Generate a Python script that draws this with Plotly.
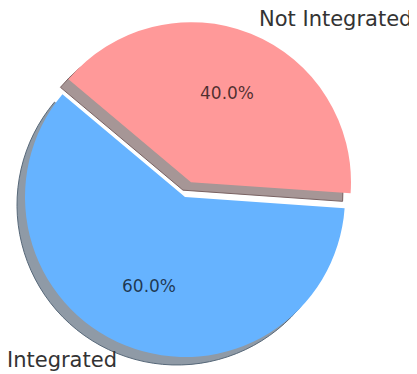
import math
import plotly.graph_objects as go

# ---- data ----
labels = ["Integrated", "Not Integrated"]
values = [60, 40]
colors = ["#66b3ff", "#ff9999"]
explode = [0.0, 0.1]

# ---- layout constants (pixels in the browser window) ----
WIN_W, WIN_H = 417, 374
BODY = 8                            # default page margin around the figure
W, H = WIN_W - BODY, WIN_H - BODY   # figure size
CX, CY, R = 185 - BODY, 197 - BODY, 160   # pie centre (in figure px) and radius
START = 140                         # start angle (deg, counter-clockwise from +x)
SDX, SDY = -8, 8                    # shadow offset (px, y down)
LABEL_FONT = dict(family="DejaVu Sans", size=21, color="#333333")
PCT_FONT = dict(family="DejaVu Sans", size=17, color="rgba(0,0,0,0.7)")


def shade(hexcol):
    h = hexcol.lstrip("#")
    rgb = [int(h[i:i + 2], 16) for i in (0, 2, 4)]
    s = [round(0.3 * c * 0.5 + 255 * 0.5) for c in rgb]
    return "rgb(%d,%d,%d)" % tuple(s)


def edge(hexcol):
    h = hexcol.lstrip("#")
    rgb = [int(h[i:i + 2], 16) for i in (0, 2, 4)]
    s = [round(0.3 * c * 0.75 + 255 * 0.25) for c in rgb]
    return "rgb(%d,%d,%d)" % tuple(s)


def dom(cx, cy, half):
    return dict(x=[max(0, (cx - half) / W), min(1, (cx + half) / W)],
                y=[max(0, (H - cy - half) / H), min(1, (H - cy + half) / H)])


total = float(sum(values))
angles = []
a = START
for v in values:
    span = 360.0 * v / total
    angles.append((a, a + span))
    a += span
mids = [(t1 + t2) / 2.0 for t1, t2 in angles]

rot = (90 - angles[0][1]) % 360
if rot > 180:
    rot -= 360

fig = go.Figure()

# shadows: one trace per wedge, other wedge transparent
for i in range(len(values)):
    m = math.radians(mids[i])
    ox = explode[i] * R * math.cos(m)
    oy = -explode[i] * R * math.sin(m)
    cx = CX + ox + SDX
    cy = CY + oy + SDY
    cols = ["rgba(0,0,0,0)"] * len(values)
    lcols = ["rgba(0,0,0,0)"] * len(values)
    cols[i] = shade(colors[i])
    lcols[i] = edge(colors[i])
    fig.add_trace(go.Pie(
        labels=labels, values=values, sort=False, direction="clockwise",
        rotation=rot, textinfo="none", hoverinfo="skip", showlegend=False,
        marker=dict(colors=cols, line=dict(color=lcols, width=1)),
        domain=dom(cx, cy, R),
    ))

# main pie
fig.add_trace(go.Pie(
    labels=labels, values=values, sort=False, direction="clockwise",
    rotation=rot, pull=explode, textinfo="none", hoverinfo="skip",
    showlegend=False,
    marker=dict(colors=colors, line=dict(width=0)),
    domain=dom(CX, CY, R * (1 + max(explode))),
))

# labels and percentages, placed like matplotlib (1.1 r and 0.6 r)
for i, v in enumerate(values):
    m = math.radians(mids[i])
    ox = explode[i] * R * math.cos(m)
    oy = -explode[i] * R * math.sin(m)
    cx, cy = CX + ox, CY + oy
    lx = cx + 1.1 * R * math.cos(m)
    ly = cy - 1.1 * R * math.sin(m)
    fig.add_annotation(x=lx / W, y=1 - ly / H, xref="paper", yref="paper",
                       text=labels[i], showarrow=False,
                       xanchor="right" if math.cos(m) < 0 else "left",
                       yanchor="middle", font=LABEL_FONT)
    px = cx + 0.6 * R * math.cos(m)
    py = cy - 0.6 * R * math.sin(m)
    fig.add_annotation(x=px / W, y=1 - py / H, xref="paper", yref="paper",
                       text="%.1f%%" % (100 * v / total), showarrow=False,
                       xanchor="center", yanchor="middle", font=PCT_FONT)

fig.update_layout(width=W, height=H, margin=dict(l=0, r=0, t=0, b=0),
                  paper_bgcolor="white", plot_bgcolor="white")
fig.write_html("out.html")
